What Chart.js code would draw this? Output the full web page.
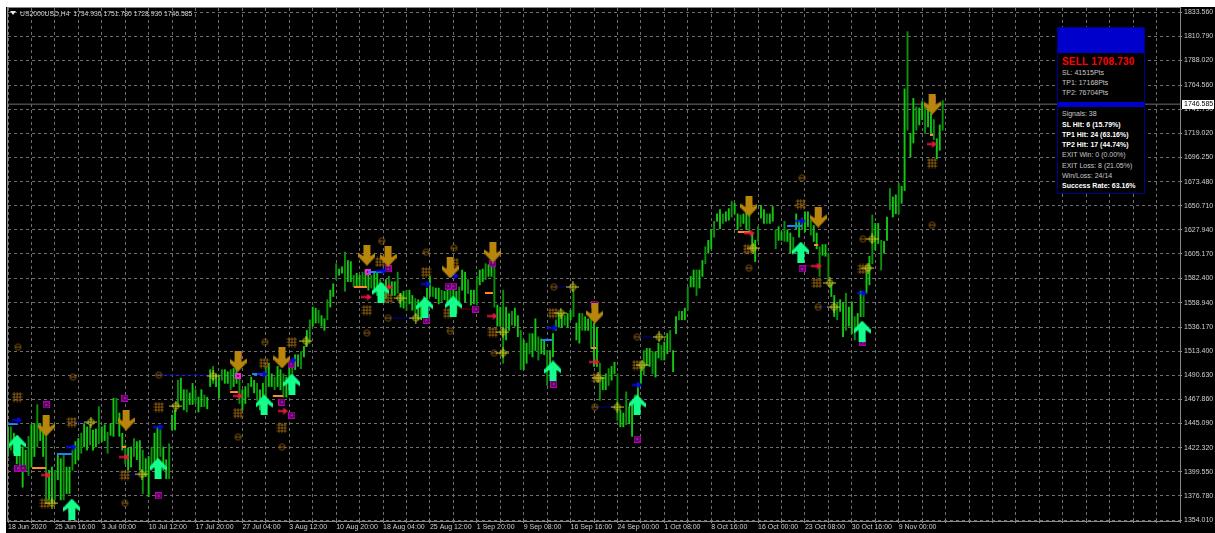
<!DOCTYPE html>
<html>
<head>
<meta charset="utf-8">
<title>US2000USD,H4</title>
<script src="https://cdn.jsdelivr.net/npm/chart.js@4"></script>
<style>
  html, body { margin: 0; padding: 0; background: #fff; }
  #wrap { position: relative; width: 1215px; height: 533px; overflow: hidden; font-family: "Liberation Sans", sans-serif; }
  #black { position: absolute; left: 6px; top: 7px; right: 0; bottom: 0; background: #000; }
  canvas { position: absolute; left: 0; top: 0; }
  #head { position: absolute; left: 20px; top: 9px; font-size: 6.8px; line-height: 9px; color: #d0d0d0; white-space: pre; }
  #tri { position: absolute; left: 10px; top: 11px; width: 0; height: 0; border: 3px solid transparent; border-top: 4px solid #e8e8e8; }
  #panel { position: absolute; left: 1057px; top: 27px; width: 86px; height: 165px; background: #000; border: 1px solid #00008c; }
  #panel .blue { position: absolute; left: 0; width: 86px; background: #0000cc; }
  #panel .t { position: absolute; left: 4px; font-size: 7px; line-height: 9px; color: #c8c8c8; white-space: nowrap; }
  #panel .t.b { font-weight: bold; color: #fff; }
  #panel .t.sell { font-weight: bold; color: #f00; font-size: 10px; line-height: 11px; letter-spacing: .2px; }
</style>
</head>
<body>
<div id="wrap">
  <div id="black"></div>
  <canvas id="chart" width="1215" height="533"></canvas>
  <div id="tri"></div>
  <div id="head">US2000USD,H4  1734.930 1751.780 1728.930 1746.585</div>
  <div id="panel"></div>
</div>
<script>
// ─── Axis labels ──────────────────────────────────────────────────────────────
const priceTicks = [1833.56, 1810.79, 1788.02, 1764.56, 1741.79, 1719.02, 1696.25, 1673.48, 1650.71, 1627.94,
  1605.17, 1582.40, 1558.94, 1536.17, 1513.40, 1490.63, 1467.86, 1445.09, 1422.32, 1399.55, 1376.78, 1354.01];
const timeLabels = ['18 Jun 2020', '25 Jun 16:00', '3 Jul 00:00', '10 Jul 12:00', '17 Jul 20:00', '27 Jul 04:00',
  '3 Aug 12:00', '10 Aug 20:00', '18 Aug 04:00', '25 Aug 12:00', '1 Sep 20:00', '9 Sep 08:00', '16 Sep 16:00',
  '24 Sep 00:00', '1 Oct 08:00', '8 Oct 16:00', '16 Oct 00:00', '23 Oct 08:00', '30 Oct 16:00', '9 Nov 00:00'];
const lastPrice = 1746.585;

// ─── Price bars (one pair per slot) ───────────────────────────────────────────
const highs = [
  1442,1442,1436,1433,1429,1423,1420,1433,1444,1445,1463,1445,1439,1436,1401,1404,1401,1415,1412,1415,
  1404,1404,1420,1428,1431,1436,1445,1442,1444,1439,1440,1461,1442,1444,1437,1445,1469,1469,1455,1436,
  1425,1422,1423,1431,1428,1429,1420,1412,1414,1423,1436,1442,1440,1423,1411,1426,1453,1458,1486,1488,
  1477,1477,1474,1483,1477,1470,1477,1472,1470,1496,1499,1492,1489,1496,1496,1494,1496,1497,1499,1492,
  1477,1480,1483,1489,1486,1483,1477,1483,1499,1502,1492,1489,1499,1496,1492,1489,1499,1505,1510,1510,
  1513,1518,1533,1543,1555,1554,1552,1547,1544,1562,1571,1577,1596,1591,1593,1607,1599,1598,1585,1587,
  1585,1588,1590,1587,1585,1587,1587,1581,1577,1581,1584,1579,1579,1588,1568,1570,1571,1571,1566,1563,
  1562,1558,1565,1573,1584,1574,1573,1573,1571,1570,1571,1577,1571,1570,1574,1590,1588,1581,1571,1571,
  1584,1590,1591,1596,1595,1596,1598,1557,1555,1571,1555,1549,1551,1554,1547,1533,1524,1521,1530,1530,
  1544,1527,1525,1524,1514,1514,1530,1543,1549,1549,1547,1549,1552,1571,1540,1549,1549,1546,1544,1549,
  1540,1536,1502,1489,1492,1497,1499,1503,1492,1458,1455,1475,1461,1464,1472,1483,1499,1514,1516,1516,
  1513,1513,1521,1519,1522,1530,1533,1514,1546,1551,1551,1554,1574,1584,1590,1590,1590,1599,1612,1618,
  1628,1636,1643,1647,1643,1645,1648,1655,1653,1643,1642,1643,1647,1643,1625,1618,1631,1651,1647,1643,
  1643,1650,1628,1631,1626,1636,1628,1625,1621,1643,1637,1639,1645,1645,1637,1632,1625,1612,1614,1614,
  1606,1577,1566,1559,1562,1559,1568,1555,1560,1546,1549,1570,1568,1590,1603,1642,1634,1634,1618,1617,
  1640,1667,1659,1661,1672,1669,1761,1815,1719,1752,1744,1743,1749,1747,1743,1738,1732,1714,1727,1750];
const lows = [
  1414,1420,1417,1407,1401,1385,1401,1396,1404,1414,1423,1429,1414,1370,1373,1370,1373,1392,1373,1373,
  1379,1379,1401,1407,1411,1417,1423,1420,1425,1420,1423,1426,1428,1429,1417,1434,1433,1445,1433,1420,
  1407,1401,1404,1414,1411,1401,1379,1395,1376,1401,1404,1407,1414,1401,1393,1393,1439,1439,1461,1467,
  1458,1456,1463,1463,1464,1456,1461,1461,1459,1480,1483,1480,1469,1486,1483,1483,1477,1480,1483,1464,
  1458,1464,1470,1480,1474,1467,1458,1461,1461,1480,1480,1477,1480,1477,1470,1470,1477,1486,1496,1499,
  1497,1508,1518,1521,1537,1540,1540,1537,1533,1543,1555,1565,1581,1585,1587,1570,1579,1579,1574,1574,
  1574,1574,1574,1571,1573,1570,1566,1565,1562,1563,1574,1566,1566,1568,1555,1554,1552,1558,1552,1546,
  1543,1543,1546,1563,1565,1565,1563,1558,1560,1562,1560,1562,1557,1549,1558,1571,1560,1568,1557,1558,
  1557,1576,1579,1581,1584,1584,1555,1537,1537,1502,1524,1533,1538,1537,1527,1496,1496,1502,1511,1508,
  1514,1505,1511,1510,1481,1496,1508,1533,1536,1536,1538,1536,1543,1546,1524,1521,1533,1533,1533,1516,
  1499,1499,1467,1477,1477,1481,1486,1492,1448,1442,1442,1444,1445,1433,1455,1464,1483,1491,1500,1499,
  1492,1489,1507,1505,1505,1511,1514,1494,1530,1543,1543,1543,1552,1574,1574,1566,1573,1584,1596,1606,
  1610,1621,1636,1629,1634,1636,1637,1640,1643,1628,1631,1634,1628,1625,1609,1598,1617,1639,1634,1634,
  1634,1636,1610,1618,1618,1617,1617,1606,1607,1629,1621,1628,1626,1631,1623,1617,1610,1584,1604,1603,
  1581,1565,1546,1543,1551,1527,1533,1537,1530,1524,1537,1546,1546,1568,1576,1596,1609,1615,1590,1606,
  1618,1647,1640,1643,1643,1653,1665,1722,1697,1710,1722,1727,1732,1719,1725,1717,1713,1695,1703,1722];

// ─── Signal marks: [slot, price] ──────────────────────────────────────────────
const upArrows = [[3.1,1424.8],[21.8,1364.4],[51.2,1403],[87.4,1462.6],[96.9,1482.4],[127.3,1569.2],
  [142.3,1555],[151.9,1556],[186,1494.7],[214.7,1462.6],[270.6,1607],[291.5,1532.4]];
const downArrows = [[13,1442.8],[40.3,1448.4],[78.5,1504],[93.5,1507],[122.5,1604],[129.7,1603],
  [150.9,1592],[165.5,1607],[200.3,1549.4],[252.9,1650.4],[276.5,1640],[315.4,1746.7]];
const orangeDots = [[3.4,1517.3],[22.2,1489],[51.5,1490.9],[39.9,1370],[78.5,1432.4],[93.5,1423],[87.7,1522],
  [122.5,1530.6],[127.6,1617.4],[142.7,1607],[152.2,1610.8],[129.7,1544.7],[150.9,1532.4],[186.3,1574],
  [165.9,1511.7],[214.7,1526.8],[200.3,1460.7],[271,1676.9],[252.9,1591.9],[276.5,1555.1],[291.8,1619.3],[315.4,1632.5]];
const orangeGrids = [[3.1,1470.1],[21.8,1446.5],[12.6,1370],[39.9,1396.5],[51.5,1460.7],[87.4,1502.2],[96.9,1522],
  [78.5,1455],[93.5,1440.9],[122.5,1552.2],[127,1597.6],[129.7,1563.6],[142.7,1588.1],[152.2,1596.6],[150.2,1549.4],
  [186,1549.4],[165.5,1531.5],[201,1488.1],[214.7,1500.3],[270.6,1652.3],[252.6,1609.8],[276.1,1577.8],[291.8,1591],[315.4,1691]];
const yellowCrosses = [[15,1370],[28.3,1446.5],[45.7,1397.4],[57.3,1461.6],[70,1490],[101.7,1523],[133.8,1563.6],
  [139.2,1544.7],[168.9,1531.5],[168.9,1511.7],[188.7,1549.4],[192.8,1574],[201.4,1488.1],[207.9,1460.7],[216.4,1500.3],
  [222.2,1526.8],[254.3,1610.8],[280.5,1577.8],[281.9,1555.1],[293.5,1591.9],[294.9,1619.3]];
const magentaSquares = [[13,1462.6],[39.9,1469.2],[3.4,1403.1],[5.1,1403.1],[51.5,1376.7],[96.6,1501.3],[93.5,1465.4],
  [96.9,1453.1],[129.7,1591],[142.7,1542.8],[151.9,1574.9],[150.2,1574.9],[159.7,1553.2],[165.5,1596.6],[200.3,1557.9],
  [186.3,1482.4],[214.7,1430.5],[271,1591],[291.8,1522],[315.4,1751.4],[276.5,1644.8],[78.5,1509.8],[21.8,1363.5]];
const magentaDots = [[78.5,1490],[122.9,1588.1]];
const redArrows = [[13,1396.5],[39.9,1413.5],[78.5,1471.1],[93.9,1456.9],[122.5,1564.5],[165.5,1546.6],[200.3,1503.2],
  [129.7,1574],[253.2,1624.9],[276.1,1593.8],[315.4,1708.9]];
const blueArrows = [[3.1,1448.4],[21.8,1422.9],[51.5,1441.8],[87,1491.8],[96.9,1505],[127.6,1589.1],[142.7,1576.8],
  [152.2,1584.4],[186,1535.3],[214.7,1481.5],[270.6,1636.3],[291.5,1568.3]];

// ─── Level segments: [from slot, to slot, price] ──────────────────────────────
const blueLevels = [[0,3.4,1444.6],[16.7,21.8,1416.3],[83.3,87,1491.8],[122.9,128,1588.1],[182.3,186,1524],[265.9,271,1631.6]];
const redLevels = [[8.2,13,1403.1],[75.8,78.5,1474.8],[90.4,93.9,1471.1],[38.9,40.3,1422.9],[118.1,122.5,1574],
  [162.8,165.5,1568.3],[199,200.7,1516.4],[249.1,253.2,1625.9],[275.1,276.5,1613.6],[314.7,315.7,1717.5]];
const darkBlueLinks = [[51.5,70,1490.9],[22.2,28.3,1446.5],[39.9,45.7,1396.5],[129.7,139.2,1544.7],[186.3,192.8,1574],
  [214.7,222.2,1526.8],[200.3,207.9,1460.7],[276.5,281.9,1555.1]];
const darkRedLinks = [[151.9,159.7,1553.2],[271,276.1,1593.8]];

// ─── Info panel ───────────────────────────────────────────────────────────────
const panelLines = [
  ['SELL 1708.730', 'sell', 28], ['SL: 41515Pts', '', 40], ['TP1: 17168Pts', '', 50], ['TP2: 76704Pts', '', 60],
  ['Signals: 38', '', 81], ['SL Hit: 6 (15.79%)', 'b', 92], ['TP1 Hit: 24 (63.16%)', 'b', 102],
  ['TP2 Hit: 17 (44.74%)', 'b', 112], ['EXIT Win: 0 (0.00%)', '', 122], ['EXIT Loss: 8 (21.05%)', '', 133],
  ['Win/Loss: 24/14', '', 143], ['Success Rate: 63.16%', 'b', 153],
];
const panel = document.getElementById('panel');
[[0, 25], [74, 5]].forEach(([top, h]) => {
  const d = document.createElement('div');
  d.className = 'blue';
  d.style.top = top + 'px';
  d.style.height = h + 'px';
  panel.appendChild(d);
});
panelLines.forEach(([txt, cls, top]) => {
  const d = document.createElement('div');
  d.className = 't ' + cls;
  d.style.top = top + 'px';
  d.textContent = txt;
  panel.appendChild(d);
});

// ─── Point style canvases ─────────────────────────────────────────────────────
function sprite(w, h, draw) {
  const c = document.createElement('canvas');
  c.width = w; c.height = h;
  draw(c.getContext('2d'), w, h);
  return c;
}
function arrowUp(color) {
  return sprite(17, 21, (g) => {
    g.fillStyle = color;
    g.beginPath();
    g.moveTo(8.5, 0); g.lineTo(17, 9); g.lineTo(17, 13); g.lineTo(12, 9.5); g.lineTo(12, 21);
    g.lineTo(5, 21); g.lineTo(5, 9.5); g.lineTo(0, 13); g.lineTo(0, 9);
    g.closePath(); g.fill();
  });
}
function arrowDown(color) {
  return sprite(17, 21, (g) => {
    g.translate(0, 21); g.scale(1, -1);
    g.drawImage(arrowUp(color), 0, 0);
  });
}
function smallArrow(color) {
  return sprite(11, 7, (g) => {
    g.fillStyle = color;
    g.fillRect(0, 2.5, 7, 2);
    g.beginPath();
    g.moveTo(5.5, 0); g.lineTo(10.5, 3.5); g.lineTo(5.5, 7);
    g.closePath(); g.fill();
  });
}
function dotMark() {
  return sprite(9, 9, (g) => {
    g.strokeStyle = '#8a5a10'; g.lineWidth = 1;
    g.beginPath(); g.arc(4.5, 4.5, 3, 0, 7); g.stroke();
    g.beginPath(); g.moveTo(2, 4.5); g.lineTo(7, 4.5); g.stroke();
  });
}
function gridMark() {
  return sprite(11, 11, (g) => {
    g.strokeStyle = '#8a5a10'; g.lineWidth = 1;
    g.beginPath();
    [2.5, 5.5, 8.5].forEach(y => { g.moveTo(0.5, y); g.lineTo(10.5, y); });
    [2.5, 5.5, 8.5].forEach(x => { g.moveTo(x, 0.5); g.lineTo(x, 10.5); });
    g.stroke();
  });
}
function crossMark() {
  return sprite(13, 11, (g) => {
    g.strokeStyle = '#c8c820'; g.lineWidth = 1;
    g.beginPath(); g.arc(6.5, 5.5, 3, 0, 7); g.stroke();
    g.beginPath();
    g.moveTo(0, 5.5); g.lineTo(13, 5.5);
    g.moveTo(6.5, 0); g.lineTo(6.5, 11);
    g.stroke();
  });
}
function squareMark() {
  return sprite(7, 7, (g) => {
    g.fillStyle = '#4a0050'; g.fillRect(0, 0, 7, 7);
    g.strokeStyle = '#b000b0'; g.lineWidth = 1; g.strokeRect(0.5, 0.5, 6, 6);
    g.fillStyle = '#d030d0'; g.fillRect(2.5, 2.5, 2, 2);
  });
}
function brightMark() {
  return sprite(6, 6, (g) => {
    g.fillStyle = '#ff20e0'; g.fillRect(0, 0, 6, 6);
    g.fillStyle = '#400040'; g.fillRect(2, 2, 2, 2);
  });
}

// ─── Dataset helpers ──────────────────────────────────────────────────────────
function marks(list, style, order) {
  return {
    type: 'scatter',
    data: list.map(m => ({ x: m[0], y: m[1] })),
    pointStyle: style,
    pointRadius: 6,
    order,
  };
}
function levels(list, color, width, order) {
  const pts = [];
  list.forEach(l => {
    pts.push({ x: l[0], y: l[2] }, { x: l[1], y: l[2] }, { x: l[1], y: null });
  });
  return {
    type: 'line',
    data: pts,
    borderColor: color,
    borderWidth: width,
    pointRadius: 0,
    spanGaps: false,
    order,
  };
}

// ─── Border and last price tag ────────────────────────────────────────────────
const framePlugin = {
  id: 'frame',
  afterDraw(chart) {
    const { ctx, chartArea: a, scales } = chart;
    ctx.save();
    ctx.strokeStyle = '#8a8a8a';
    ctx.lineWidth = 1;
    ctx.strokeRect(a.left - 0.5, a.top - 0.5, a.right - a.left + 1, a.bottom - a.top + 1);
    const y = Math.round(scales.y.getPixelForValue(lastPrice));
    ctx.fillStyle = '#fff';
    ctx.fillRect(a.right + 2, y - 4, 32, 9);
    ctx.fillStyle = '#000';
    ctx.font = '7px "Liberation Sans"';
    ctx.textBaseline = 'middle';
    ctx.fillText(lastPrice.toFixed(3), a.right + 4, y + 0.5);
    ctx.restore();
  },
};

// ─── Chart ────────────────────────────────────────────────────────────────────
const axisFont = { family: '"Liberation Sans"', size: 7 };
const slotsPerLabel = 16;

new Chart(document.getElementById('chart').getContext('2d'), {
  data: {
    datasets: [
      {
        type: 'bar',
        data: highs.map((h, i) => ({ x: i, y: [lows[i], h] })),
        backgroundColor: ctx => (ctx.dataIndex % 3 === 1 ? '#0a900a' : '#12c812'),
        barThickness: 1.25,
        order: 20,
      },
      levels([[0, 400, lastPrice]], '#6e6e6e', 1, 25),
      levels(darkBlueLinks, '#000090', 1, 21),
      levels(darkRedLinks, '#700010', 1, 21),
      levels(blueLevels, '#0050ff', 2, 10),
      levels(blueLevels, '#30b8ff', 1, 9),
      levels(redLevels, '#ff3020', 2, 10),
      levels(redLevels, '#ffe040', 1, 9),
      marks(orangeDots, dotMark(), 15),
      marks(orangeGrids, gridMark(), 15),
      marks(yellowCrosses, crossMark(), 14),
      marks(magentaSquares, squareMark(), 13),
      marks(magentaDots, brightMark(), 12),
      marks(redArrows, smallArrow('#e81840'), 8),
      marks(blueArrows, smallArrow('#0808e0'), 8),
      marks(downArrows, arrowDown('#b8860b'), 3),
      marks(upArrows, arrowUp('#14ff8c'), 2),
    ],
  },
  options: {
    responsive: false,
    devicePixelRatio: 1,
    animation: false,
    events: [],
    layout: { padding: { left: 8, top: 8, right: 2, bottom: 0 } },
    plugins: { legend: { display: false }, tooltip: { enabled: false } },
    scales: {
      x: {
        type: 'linear',
        offset: false,
        min: 0,
        max: 400,
        afterBuildTicks(s) {
          const t = [];
          for (let v = 0; v <= 400; v += slotsPerLabel / 2) t.push({ value: v });
          s.ticks = t;
        },
        afterFit(s) { s.height = 12; },
        grid: { offset: false, color: '#6e6e6e', tickColor: '#8a8a8a', tickLength: 2, lineWidth: 1 },
        border: { dash: [3, 3], display: false },
        ticks: {
          autoSkip: false,
          maxRotation: 0,
          align: 'start',
          padding: 0,
          color: '#cfcfcf',
          font: axisFont,
          callback: v => (v % slotsPerLabel === 0 ? timeLabels[v / slotsPerLabel] ?? '' : ''),
        },
      },
      y: {
        position: 'right',
        min: 1353.1,
        max: 1837.35,
        afterBuildTicks(s) { s.ticks = priceTicks.map(v => ({ value: v })); },
        afterFit(s) { s.width = 33; },
        grid: { color: '#6e6e6e', tickColor: '#8a8a8a', tickLength: 2, lineWidth: 1 },
        border: { dash: [3, 3], display: false },
        ticks: {
          autoSkip: false,
          padding: 2,
          color: '#cfcfcf',
          font: axisFont,
          callback: v => v.toFixed(3),
        },
      },
    },
  },
  plugins: [framePlugin],
});
</script>
</body>
</html>
